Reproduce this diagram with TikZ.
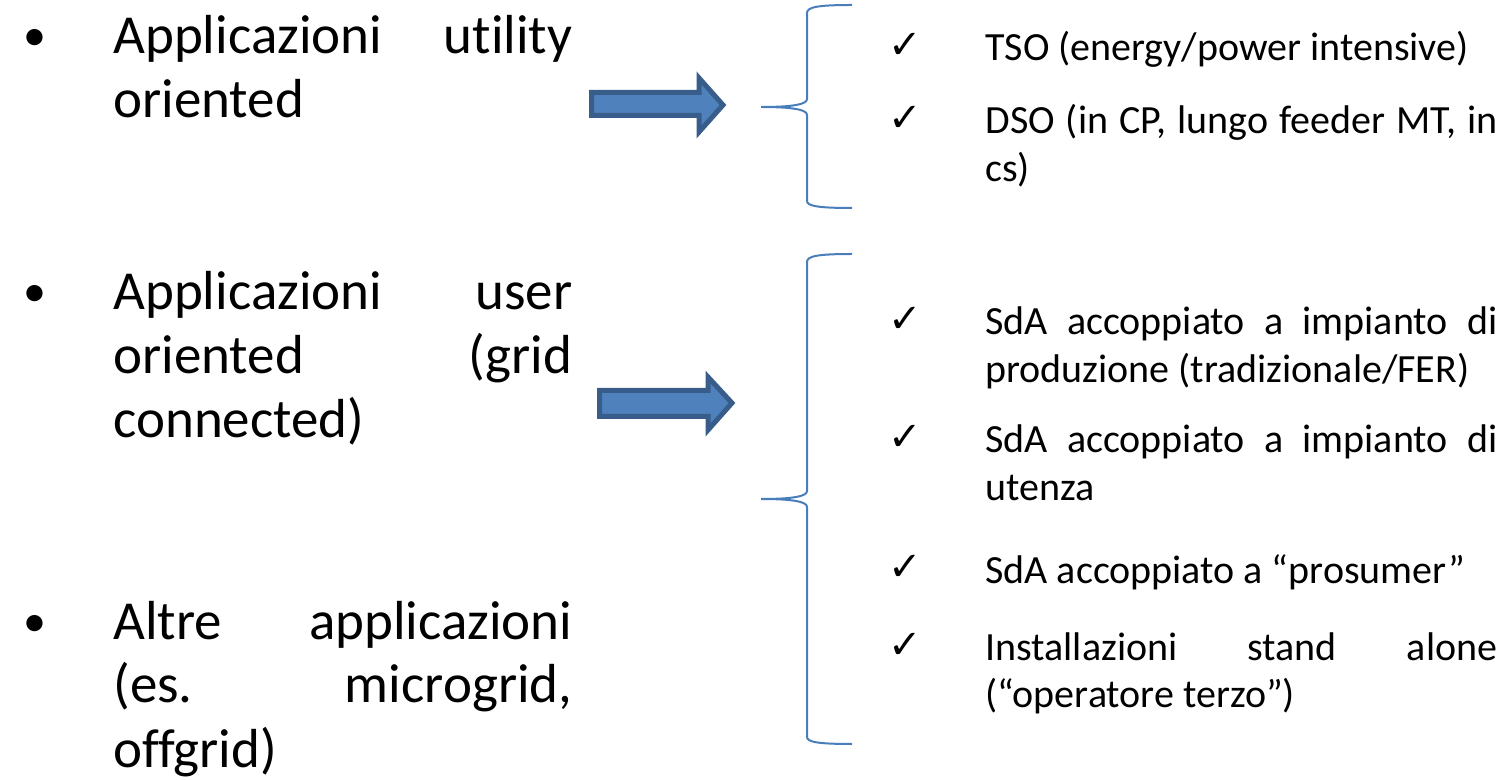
\documentclass[tikz,border=0pt]{standalone}
\usepackage{fontspec}
\setmainfont{Carlito}[Ligatures=NoCommon]
\newfontfamily\symfont{DejaVu Sans}
\definecolor{arrowfill}{HTML}{4F81BD}
\definecolor{arrowline}{HTML}{385D8A}
\definecolor{braceline}{HTML}{4A7EBB}
\begin{document}
\begin{tikzpicture}[x=0.5pt,y=-0.5pt,
	main/.style = {anchor=base west, inner sep=0pt, text width=229.5pt, align=justify, font=\fontsize{27.5pt}{32pt}\selectfont},
	sub/.style = {anchor=base west, inner sep=0pt, text width=256pt, align=justify, font=\fontsize{20pt}{24pt}\selectfont},
	dot/.style = {anchor=base, inner sep=0pt, font=\fontsize{23pt}{32pt}\selectfont},
	tick/.style = {anchor=base, inner sep=0pt, font=\symfont\fontsize{20pt}{24pt}\selectfont},
	blockarrow/.style = {draw=arrowline, fill=arrowfill, line width=2.5pt, line join=miter},
	brace/.style = {draw=braceline, line width=1pt}]
	\useasboundingbox (0,0) rectangle (1505,780);
	% left column
	\node (B1) at (35, 51)	[dot]	{\textbullet};
	\node (B2) at (35,307)	[dot]	{\textbullet};
	\node (B3) at (35,636)	[dot]	{\textbullet};
	\node (A1) at (113, 54)	[main]	{Applicazioni utility\linebreak oriented};
	\node (A2) at (113,310)	[main]	{Applicazioni user oriented (grid\linebreak connected)};
	\node (A3) at (113,639)	[main]	{Altre applicazioni\linebreak (es. microgrid,\linebreak offgrid)};
	% arrows
	\draw[blockarrow] (591.5,92.5) -- (699,92.5) -- (699,78) -- (723,105) -- (699,132) -- (699,115.5) -- (591.5,115.5) -- cycle;
	\draw[blockarrow] (599.5,390.5) -- (708,390.5) -- (708,377) -- (732,403) -- (708,430) -- (708,416.5) -- (599.5,416.5) -- cycle;
	% braces
	\draw[brace] (852,5) .. controls (818,5) and (807,7) .. (807,13) -- (807,99) .. controls (807,104) and (795,107) .. (761,107) .. controls (795,107) and (807,110) .. (807,115) -- (807,201) .. controls (807,206) and (818,208) .. (852,208);
	\draw[brace] (852,254) .. controls (818,254) and (807,256) .. (807,262) -- (807,491) .. controls (807,496) and (795,499) .. (761,499) .. controls (795,499) and (807,502) .. (807,507) -- (807,737) .. controls (807,742) and (818,744) .. (852,744);
	% right column
	\node (C1) at (905, 59)	[tick]	{✓};
	\node (C2) at (905,132)	[tick]	{✓};
	\node (C3) at (905,333)	[tick]	{✓};
	\node (C4) at (905,451)	[tick]	{✓};
	\node (C5) at (905,581)	[tick]	{✓};
	\node (C6) at (905,658)	[tick]	{✓};
	\node (T1) at (985, 61)	[sub]	{TSO (energy/power intensive)};
	\node (T2) at (985,134)	[sub]	{DSO (in CP, lungo feeder MT, in\linebreak cs)};
	\node (T3) at (985,335)	[sub]	{SdA accoppiato a impianto di\linebreak produzione (tradizionale/FER)};
	\node (T4) at (985,453)	[sub]	{SdA accoppiato a impianto di\linebreak utenza};
	\node (T5) at (985,583)	[sub]	{SdA accoppiato a “prosumer”};
	\node (T6) at (985,660)	[sub]	{Installazioni stand alone\linebreak (“operatore terzo”)};
\end{tikzpicture}
\end{document}
